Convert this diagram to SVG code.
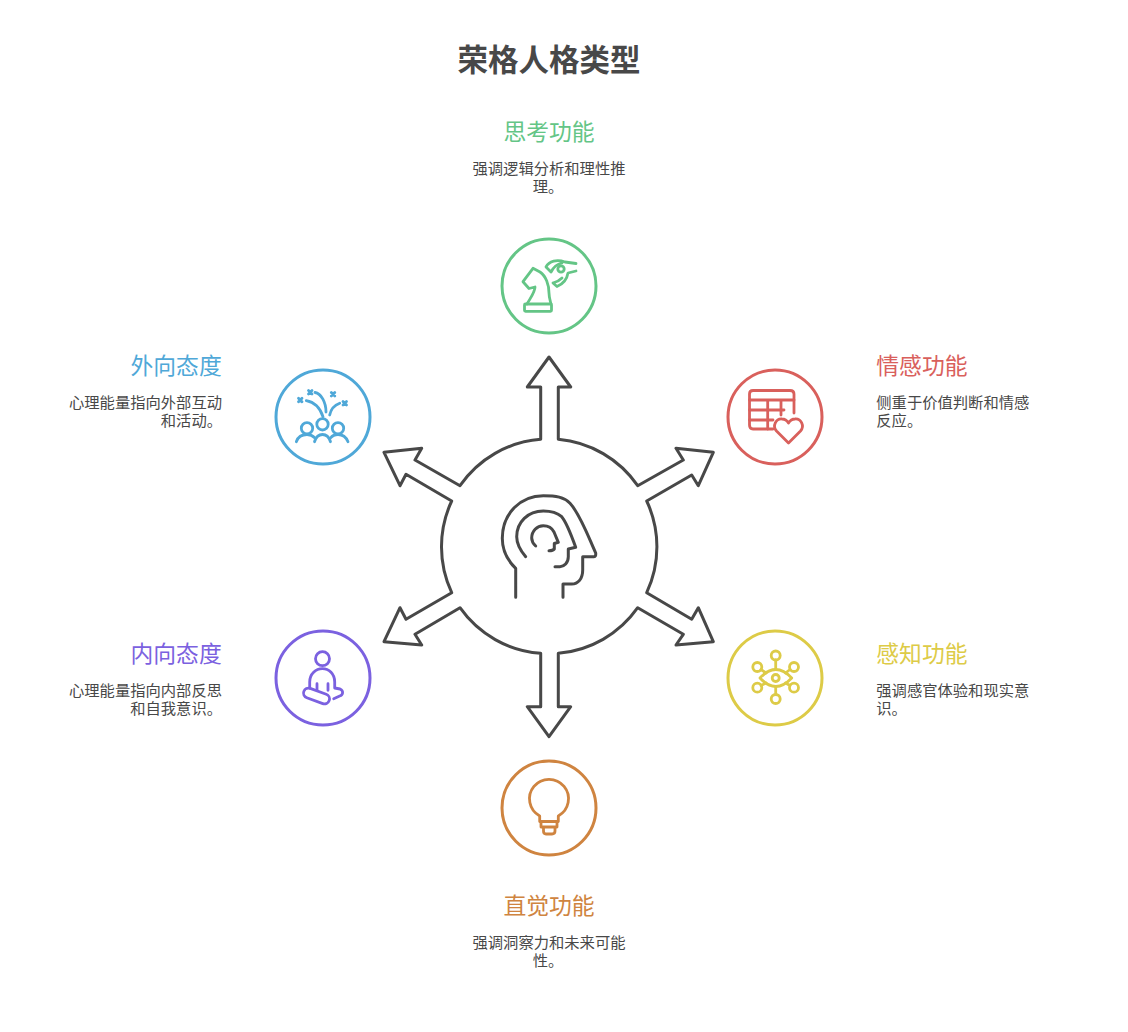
<svg xmlns="http://www.w3.org/2000/svg" width="1128" height="1032" viewBox="0 0 1128 1032">
<style>
text{font-family:"Liberation Sans","Noto Sans CJK SC",sans-serif}
.title{font-size:30.5px;font-weight:700;fill:#484848;text-anchor:middle}
.h{font-size:22.8px;font-weight:400}
.b{font-size:15.3px;fill:#484848}
.m{text-anchor:middle}.e{text-anchor:end}
.ic{fill:none;stroke-width:2.8;stroke-linecap:round;stroke-linejoin:round}
.c{fill:#fff;stroke-width:3}
.hub{fill:#fff;stroke:#484848;stroke-width:3;stroke-linejoin:round}
.hd{fill:none;stroke:#484848;stroke-width:3;stroke-linecap:round;stroke-linejoin:round}
.green{stroke:#64C586}.red{stroke:#D9605C}.yel{stroke:#DDCB47}.ora{stroke:#CF8440}.pur{stroke:#7B61E0}.blu{stroke:#4FA8D8}
</style>
<text class="title" x="549" y="71">荣格人格类型</text>
<g id="connectors">
<path class="hub" d="M540.7,439.3 V387 H527.3 L549,357 L570.7,387 H558.3 V439.3 A108,108 0 0 1 637.7,485.7 L683.3,460 L676,448.3 L713.3,452.3 L698.3,485.7 L691.7,475 L646.7,501 A108,108 0 0 1 646.7,592.7 L691.7,619.3 L698.3,607.7 L713.3,641.7 L676,645 L683.3,634.3 L637.7,607.7 A108,108 0 0 1 558.3,653.3 V706.7 H570.7 L549,736.7 L527.3,706.7 H540.7 V653.3 A108,108 0 0 1 460,607.7 L415,634.3 L421.7,645 L384,641.7 L400,607.7 L406,619.3 L451.7,592.7 A108,108 0 0 1 451.7,501 L406,474.3 L400,485.7 L384,452.3 L421.7,448.3 L415,460 L460,485.7 A108,108 0 0 1 540.7,439.3 Z"/>
</g>
<g id="center">
<path class="hd" d="M515.7,597.3 V568.3 C508,561 502.3,552 502.3,538.3 C502.3,513 521,495.7 543.3,495.7 C556,495.7 564,497 570,503.3 C580,514 588,536 595.7,553 Q596,556.7 594,556.7 H582.7 V570 C582.7,579 578,584 571.7,584 H563 V597.3"/>
<path class="hd" d="M525.7,556.7 C520,550 516.7,544 516.7,536.7 C516.7,522 528,511 543.3,511 C551,511 557,512.5 561.7,516.7 C567,523 572,537 575.7,547.3 L568.3,549 V556.7 C568.3,563 564,566.7 560,566.7 H555"/>
<path class="hd" d="M535.7,546 C533,543.5 531.7,541 531.7,538 C531.7,531 537,525.7 543.3,525.7 C548,525.7 552,528 554,532 L558.3,542.3 L554.3,543.5 V549 Q553,550.7 549,550.7"/>
</g>
<g id="node-thinking">
<circle class="c green" cx="549" cy="286" r="47"/>
<path class="ic green" d="M527,304 C531,297 535,292 535,287 L529,288.5 L523,281.7 L533,268.3 L540,272 C546,276 549,285 549,293 C549,297 550,300 551,304"/>
<rect class="ic green" x="524.5" y="304" width="27" height="7.3" rx="1"/>
<circle class="ic green" cx="561" cy="269" r="3.2"/>
<path class="ic green" d="M551,272 L546,267 C549,261 557,259 565,262 L576,263.5 M551,272 C553,268 557,264 562,263"/>
<path class="ic green" d="M553,283 L557,286.5 C563,284 567,279 568,273 L576,271 M553,283 C557,282 560,280 562,278"/>
<text class="h m" x="549" y="140" fill="#64C586">思考功能</text>
<text class="b m"><tspan x="549" y="174">强调逻辑分析和理性推</tspan><tspan x="548" y="192">理。</tspan></text>
</g>
<g id="node-feeling">
<circle class="c red" cx="775" cy="417" r="47"/>
<path class="ic red" d="M794,413 V394 Q794,390.5 790,390.5 H753 Q749.5,390.5 749.5,394 V425 Q749.5,429 753,429 H773"/>
<path class="ic red" d="M749.5,400 H794 M749.5,410 H784 M749.5,420 H773 M767.7,400 V429 M781,400 V415"/>
<path class="ic red" d="M788.5,443 L776.5,431 C772,426 776,418.5 782,419 C785,419 787,420.5 788.5,423 C790,420.5 792,419 795,419 C801,418.5 805,426 800.5,431 Z"/>
<text class="h" x="876.3" y="374" fill="#D9605C">情感功能</text>
<text class="b"><tspan x="876.3" y="408">侧重于价值判断和情感</tspan><tspan x="876.3" y="426">反应。</tspan></text>
</g>
<g id="node-sensing">
<circle class="c yel" cx="775" cy="678" r="47"/>
<path class="ic yel" d="M760,678 Q775.7,661 791.7,678 Q775.7,695 760,678 Z"/>
<circle class="ic yel" cx="775.7" cy="678" r="3.5"/>
<circle class="ic yel" cx="775.7" cy="655.5" r="4.5"/>
<circle class="ic yel" cx="775.7" cy="699" r="4.5"/>
<circle class="ic yel" cx="757.3" cy="667" r="4.5"/>
<circle class="ic yel" cx="794" cy="667" r="4.5"/>
<circle class="ic yel" cx="757.3" cy="687.7" r="4.5"/>
<circle class="ic yel" cx="794" cy="687.7" r="4.5"/>
<path class="ic yel" d="M775.7,660 V669.5 M775.7,686.5 V694.5 M761,669.5 L766,673 M790,669.5 L785.5,673 M761,685.5 L766,683 M790,685.5 L785.5,683"/>
<text class="h" x="876.3" y="662" fill="#DDCB47">感知功能</text>
<text class="b"><tspan x="876.3" y="696">强调感官体验和现实意</tspan><tspan x="876.3" y="714">识。</tspan></text>
</g>
<g id="node-intuition">
<circle class="c ora" cx="549" cy="808" r="47"/>
<path class="ic ora" d="M539.7,821.5 V816 A19.5,19.5 0 1 1 558.3,816 V821.5 Z"/>
<path class="ic ora" d="M541,821.5 V827 H557 V821.5 M543.5,827 V831 Q543.5,834 546,834 H552 Q555,834 555,831 V827"/>
<text class="h m" x="549" y="914" fill="#CF8440">直觉功能</text>
<text class="b m"><tspan x="549" y="948">强调洞察力和未来可能</tspan><tspan x="548" y="966">性。</tspan></text>
</g>
<g id="node-introversion">
<circle class="c pur" cx="323" cy="678" r="47"/>
<circle class="ic pur" cx="322.5" cy="658.7" r="7"/>
<path class="ic pur" d="M309.7,688 V682 C309.7,674 316,668.7 322.3,668.7 C329,668.7 334.7,674 334.7,682 V688 L340,689 C344,691 343,695 339.7,696 L333.7,698.7"/>
<path class="ic pur" d="M317,683.7 V690.3 M328,683.7 V690.3"/>
<rect class="ic pur" x="303" y="691" width="27" height="10" rx="5" transform="rotate(20 316.5 696)"/>
<text class="h e" x="221.7" y="662" fill="#7B61E0">内向态度</text>
<text class="b e"><tspan x="222" y="696">心理能量指向内部反思</tspan><tspan x="222" y="714">和自我意识。</tspan></text>
</g>
<g id="node-extraversion">
<circle class="c blu" cx="323" cy="417" r="47"/>
<circle class="ic blu" cx="307" cy="428.3" r="5.7"/>
<circle class="ic blu" cx="322.5" cy="424.3" r="5.7"/>
<circle class="ic blu" cx="338" cy="428.3" r="5.7"/>
<path class="ic blu" d="M296.3,441.7 C298,437 302,434.5 307,434.5 C310,434.5 313,436 315,438 M314.5,441.7 C316,437 318,434.5 322.5,434.5 C327,434.5 329,437 330.5,441.7 M330.5,438 C332,436 335,434.5 338,434.5 C343,434.5 346,437 348,441.7"/>
<path class="ic blu" d="M306.3,400.7 C314,402 320,408 323,416.7 M315,392.5 C321,393.5 326,402 326,412 M329.7,415 C331,409 335,405 339.7,403.3"/>
<path class="ic blu" d="M298.5,398.2 L302,401.8 M302,398.2 L298.5,401.8 M308.5,390.5 L312,394 M312,390.5 L308.5,394 M331.3,392.5 L334.8,396 M334.8,392.5 L331.3,396 M343,401.5 L346.5,405 M346.5,401.5 L343,405"/>
<text class="h e" x="221.7" y="374" fill="#4FA8D8">外向态度</text>
<text class="b e"><tspan x="222" y="408">心理能量指向外部互动</tspan><tspan x="222" y="426">和活动。</tspan></text>
</g>
</svg>
